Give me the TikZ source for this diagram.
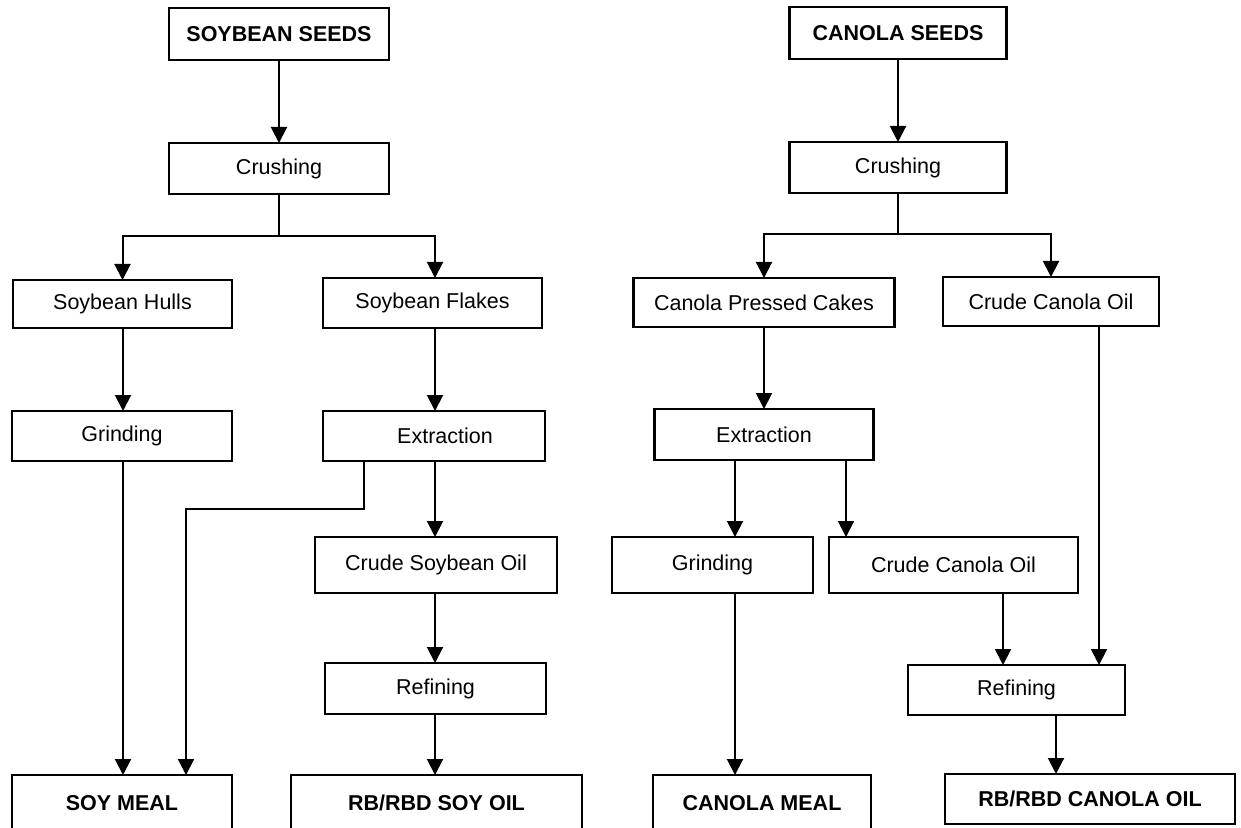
\documentclass[tikz,border=0pt]{standalone}
\usepackage{fontspec}
\setmainfont{Liberation Sans}
\usetikzlibrary{arrows.meta}
\begin{document}
\begin{tikzpicture}[x=0.5pt,y=-0.5pt,
  box/.style={draw, line width=1.05pt, inner sep=0pt, outer sep=0pt, align=center,
    font=\fontsize{10.75}{13}\selectfont},
  bbox/.style={box, font=\fontsize{10.75}{13}\selectfont\bfseries},
  conn/.style={line width=1pt},
  arr/.style={conn, -{Triangle[width=8pt,length=8pt]}}]
\useasboundingbox (0,0) rectangle (1241,828);
\clip (0,0) rectangle (1241,828);
% ---------- soybean ----------
\node[bbox, minimum width=110pt, minimum height=26pt] (seedsL) at (279,34) {SOYBEAN SEEDS};
\node[box, minimum width=110pt, minimum height=25.5pt] (crushL) at (279,168.5) {Crushing};
\node[box, minimum width=109.5pt, minimum height=24pt] (hulls) at (122.5,304) {Soybean Hulls};
\node[box, minimum width=109.5pt, minimum height=25pt] (flakes) at (432.5,303) {Soybean Flakes};
\node[box, minimum width=110pt, minimum height=25pt] (grindL) at (122,436) {Grinding};
\node[box, minimum width=111pt, minimum height=25pt] (extrL) at (434,436) {\hspace*{11pt}Extraction};
\node[box, minimum width=121pt, minimum height=28pt] (crudeSoy) at (436,565) {Crude Soybean Oil};
\node[box, minimum width=110.5pt, minimum height=25.5pt] (refL) at (435.5,688.5) {Refining};
\node[bbox, minimum width=145.5pt, minimum height=28pt] (rbdSoy) at (436.5,803) {RB/RBD SOY OIL};
\node[bbox, minimum width=110pt, minimum height=28pt] (soyMeal) at (122,803) {SOY MEAL};
% ---------- canola ----------
\node[bbox, minimum width=108.5pt, minimum height=26pt] (seedsR) at (898,33) {CANOLA SEEDS};
\node[box, minimum width=108.5pt, minimum height=25.5pt] (crushR) at (898,167.5) {Crushing};
\node[box, minimum width=130.5pt, minimum height=24.5pt] (cpc) at (764,302.5) {Canola Pressed Cakes};
\node[box, minimum width=108pt, minimum height=24.5pt] (ccoTop) at (1051,301.5) {Crude Canola Oil};
\node[box, minimum width=109.5pt, minimum height=25.5pt] (extrR) at (764,434.5) {Extraction};
\node[box, minimum width=100.5pt, minimum height=28pt] (grindR) at (712.5,565) {Grinding};
\node[box, minimum width=124.5pt, minimum height=28pt] (ccoMid) at (953.5,565) {Crude Canola Oil};
\node[box, minimum width=108.5pt, minimum height=25pt] (refR) at (1016.5,690) {Refining};
\node[bbox, minimum width=145pt, minimum height=25pt] (rbdCan) at (1090,799) {RB/RBD CANOLA OIL};
\node[bbox, minimum width=109pt, minimum height=28pt] (canMeal) at (762,803) {CANOLA MEAL};
% ---------- helper coordinates ----------
\coordinate (bL) at (279,236);
\coordinate (bR) at (898,234);
\coordinate (xMealL) at (123,0);
\coordinate (xSide) at (364,509);
\coordinate (xSideB) at (186,509);
\coordinate (xOilL) at (435,0);
\coordinate (xGrR) at (735,0);
\coordinate (xCcR) at (846,0);
\coordinate (xRf1) at (1003,0);
\coordinate (xRf2) at (1099,0);
\coordinate (xRf3) at (1056,0);
% ---------- soybean connectors ----------
\draw[arr] (seedsL) -- (crushL);
\draw[arr] (crushL.south) -- (bL) -| (hulls.north);
\draw[arr] (bL) -| (flakes.north -| xOilL);
\draw[arr] (hulls.south -| xMealL) -- (grindL.north -| xMealL);
\draw[arr] (flakes.south -| xOilL) -- (extrL.north -| xOilL);
\draw[arr] (grindL.south -| xMealL) -- (soyMeal.north -| xMealL);
\draw[arr] (extrL.south -| xSide) -- (xSide) -- (xSideB) -- (soyMeal.north -| xSideB);
\draw[arr] (extrL.south -| xOilL) -- (crudeSoy.north -| xOilL);
\draw[arr] (crudeSoy.south -| xOilL) -- (refL.north -| xOilL);
\draw[arr] (refL.south -| xOilL) -- (rbdSoy.north -| xOilL);
% ---------- canola connectors ----------
\draw[arr] (seedsR) -- (crushR);
\draw[arr] (crushR.south) -- (bR) -| (cpc.north);
\draw[arr] (bR) -| (ccoTop.north);
\draw[arr] (cpc) -- (extrR);
\draw[arr] (extrR.south -| xGrR) -- (grindR.north -| xGrR);
\draw[arr] (extrR.south -| xCcR) -- (ccoMid.north -| xCcR);
\draw[arr] (grindR.south -| xGrR) -- (canMeal.north -| xGrR);
\draw[arr] (ccoMid.south -| xRf1) -- (refR.north -| xRf1);
\draw[arr] (ccoTop.south -| xRf2) -- (refR.north -| xRf2);
\draw[arr] (refR.south -| xRf3) -- (rbdCan.north -| xRf3);
\end{tikzpicture}
\end{document}
